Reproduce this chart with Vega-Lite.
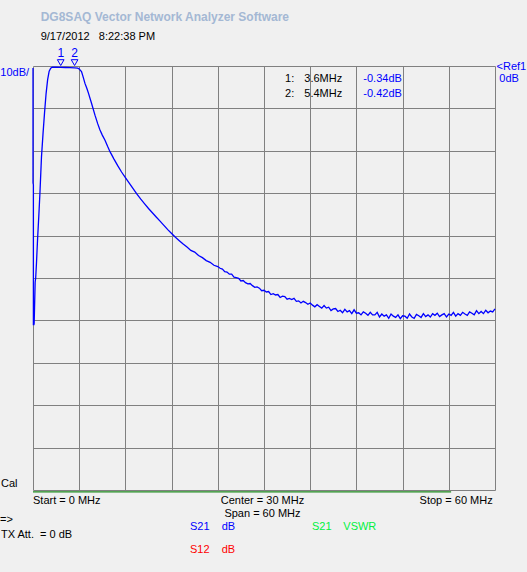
{
  "$schema": "https://vega.github.io/schema/vega-lite/v6.json",
  "autosize": "none",
  "width": 462,
  "height": 424,
  "padding": {"left": 33, "top": 66, "right": 32, "bottom": 82},
  "background": "#f0f0f0",
  "config": {
    "view": {"stroke": null},
    "text": {"font": "Liberation Sans", "fontSize": 11, "baseline": "alphabetic", "align": "left", "color": "#000000"},
    "axis": {"grid": true, "gridColor": "#808080", "gridOpacity": 1, "gridWidth": 1, "labels": false, "ticks": false, "domain": false, "title": null}
  },
  "data": {"values": [{}]},
  "layer": [
    {
      "data": {"values": [
        {"f": 0, "db": -0.5}, {"f": 0, "db": -27.6}, {"f": 0.05, "db": -28}, {"f": 0.05, "db": -61}, {"f": 0.12, "db": -61},
        {"f": 0.15, "db": -60.7}, {"f": 0.2, "db": -57}, {"f": 0.28, "db": -51}, {"f": 0.35, "db": -50}, {"f": 0.45, "db": -46.5},
        {"f": 0.6, "db": -40.6}, {"f": 0.75, "db": -35.5}, {"f": 0.9, "db": -30}, {"f": 1.1, "db": -21.5}, {"f": 1.3, "db": -16},
        {"f": 1.5, "db": -11}, {"f": 1.7, "db": -6.5}, {"f": 1.9, "db": -3.2}, {"f": 2.1, "db": -1.2}, {"f": 2.3, "db": -0.5},
        {"f": 2.5, "db": -0.3}, {"f": 3.0, "db": -0.3}, {"f": 3.6, "db": -0.34}, {"f": 4.2, "db": -0.35}, {"f": 4.8, "db": -0.38},
        {"f": 5.4, "db": -0.42}, {"f": 5.8, "db": -0.5}, {"f": 6.0, "db": -0.7}, {"f": 6.3, "db": -1.3}, {"f": 6.5, "db": -2.5},
        {"f": 6.75, "db": -4.1}, {"f": 7.0, "db": -5.3}, {"f": 7.2, "db": -6.4}, {"f": 7.6, "db": -8.8}, {"f": 8.05, "db": -11.6},
        {"f": 8.4, "db": -13.6}, {"f": 8.7, "db": -15.1}, {"f": 9.0, "db": -16.3}, {"f": 9.35, "db": -17.5}, {"f": 9.7, "db": -19},
        {"f": 10, "db": -20.2}, {"f": 10.5, "db": -21.9}, {"f": 11, "db": -23.5}, {"f": 11.5, "db": -25}, {"f": 12, "db": -26.3},
        {"f": 12.5, "db": -27.6}, {"f": 13, "db": -28.9}, {"f": 13.5, "db": -30.2}, {"f": 14, "db": -31.4}, {"f": 14.5, "db": -32.5},
        {"f": 15, "db": -33.6}, {"f": 15.5, "db": -34.6}, {"f": 16, "db": -35.6}, {"f": 16.5, "db": -36.6}, {"f": 17, "db": -37.6},
        {"f": 17.5, "db": -38.6}, {"f": 18, "db": -39.5}, {"f": 18.5, "db": -40.4}, {"f": 19, "db": -41.2}, {"f": 19.5, "db": -42},
        {"f": 20, "db": -42.7}, {"f": 20.5, "db": -43.5}, {"f": 21, "db": -43.9}, {"f": 21.5, "db": -44.7}, {"f": 22, "db": -45.2},
        {"f": 22.5, "db": -45.9}, {"f": 23, "db": -46.3}, {"f": 23.5, "db": -47.0}, {"f": 24, "db": -47.3},
        {"f": 24.3, "db": -47.7}, {"f": 24.6, "db": -47.9}, {"f": 24.9, "db": -48.5}, {"f": 25.2, "db": -48.6}, {"f": 25.5, "db": -49.1},
        {"f": 25.8, "db": -49.1}, {"f": 26.1, "db": -49.8}, {"f": 26.4, "db": -49.9}, {"f": 26.7, "db": -50.1}, {"f": 27.0, "db": -50.7},
        {"f": 27.3, "db": -50.6}, {"f": 27.6, "db": -51.1}, {"f": 27.9, "db": -51.4}, {"f": 28.2, "db": -51.3}, {"f": 28.5, "db": -51.8},
        {"f": 28.8, "db": -52.2}, {"f": 29.1, "db": -52.1}, {"f": 29.4, "db": -52.4}, {"f": 29.7, "db": -53.0}, {"f": 30.0, "db": -52.9},
        {"f": 30.3, "db": -53.3}, {"f": 30.6, "db": -53.2}, {"f": 30.9, "db": -53.9}, {"f": 31.2, "db": -53.7}, {"f": 31.5, "db": -54.0},
        {"f": 31.8, "db": -53.9}, {"f": 32.1, "db": -54.6}, {"f": 32.4, "db": -54.3}, {"f": 32.7, "db": -54.4}, {"f": 33.0, "db": -55.0},
        {"f": 33.3, "db": -54.8}, {"f": 33.6, "db": -55.1}, {"f": 33.9, "db": -54.8}, {"f": 34.2, "db": -55.5}, {"f": 34.5, "db": -55.4},
        {"f": 34.8, "db": -55.9}, {"f": 35.1, "db": -55.5}, {"f": 35.4, "db": -55.8}, {"f": 35.7, "db": -56.2}, {"f": 36.0, "db": -55.9},
        {"f": 36.3, "db": -56.4}, {"f": 36.6, "db": -56.8}, {"f": 36.9, "db": -56.3}, {"f": 37.2, "db": -56.7}, {"f": 37.5, "db": -57.1},
        {"f": 37.8, "db": -56.5}, {"f": 38.1, "db": -57.1}, {"f": 38.4, "db": -56.9}, {"f": 38.7, "db": -57.7}, {"f": 39.0, "db": -57.3},
        {"f": 39.3, "db": -57.2}, {"f": 39.6, "db": -57.9}, {"f": 39.9, "db": -57.6}, {"f": 40.2, "db": -58.2}, {"f": 40.5, "db": -57.4},
        {"f": 40.8, "db": -58.0}, {"f": 41.1, "db": -57.7}, {"f": 41.4, "db": -58.4}, {"f": 41.7, "db": -57.5}, {"f": 42.0, "db": -58.3},
        {"f": 42.3, "db": -58.2}, {"f": 42.6, "db": -58.7}, {"f": 42.9, "db": -58.0}, {"f": 43.2, "db": -58.3}, {"f": 43.5, "db": -58.8},
        {"f": 43.8, "db": -58.1}, {"f": 44.1, "db": -58.7}, {"f": 44.4, "db": -58.7}, {"f": 44.7, "db": -58.1}, {"f": 45.0, "db": -59.2},
        {"f": 45.3, "db": -58.5}, {"f": 45.6, "db": -59.0}, {"f": 45.9, "db": -58.7}, {"f": 46.2, "db": -59.5}, {"f": 46.5, "db": -58.5},
        {"f": 46.8, "db": -59.0}, {"f": 47.1, "db": -59.3}, {"f": 47.4, "db": -58.7}, {"f": 47.7, "db": -59.6}, {"f": 48.0, "db": -58.9},
        {"f": 48.3, "db": -59.0}, {"f": 48.6, "db": -59.5}, {"f": 48.9, "db": -58.5}, {"f": 49.2, "db": -59.2}, {"f": 49.5, "db": -59.5},
        {"f": 49.8, "db": -58.6}, {"f": 50.1, "db": -58.9}, {"f": 50.4, "db": -59.3}, {"f": 50.7, "db": -58.4}, {"f": 51.0, "db": -59.1},
        {"f": 51.3, "db": -58.7}, {"f": 51.6, "db": -59.2}, {"f": 51.9, "db": -58.4}, {"f": 52.2, "db": -58.8}, {"f": 52.5, "db": -58.3},
        {"f": 52.8, "db": -59.1}, {"f": 53.1, "db": -58.7}, {"f": 53.4, "db": -58.4}, {"f": 53.7, "db": -59.2}, {"f": 54.0, "db": -58.5},
        {"f": 54.3, "db": -58.8}, {"f": 54.6, "db": -58.1}, {"f": 54.9, "db": -59.0}, {"f": 55.2, "db": -58.4}, {"f": 55.5, "db": -58.8},
        {"f": 55.8, "db": -58.1}, {"f": 56.1, "db": -58.5}, {"f": 56.4, "db": -58.8}, {"f": 56.7, "db": -58.0}, {"f": 57.0, "db": -58.3},
        {"f": 57.3, "db": -58.7}, {"f": 57.6, "db": -57.7}, {"f": 57.9, "db": -58.4}, {"f": 58.2, "db": -57.9}, {"f": 58.5, "db": -58.4},
        {"f": 58.8, "db": -57.6}, {"f": 59.1, "db": -58.2}, {"f": 59.4, "db": -57.8}, {"f": 59.7, "db": -58.0}, {"f": 60.0, "db": -57.3}
      ]},
      "mark": {"type": "line", "color": "#0000ff", "strokeWidth": 1.3, "interpolate": "linear"},
      "encoding": {
        "x": {"field": "f", "type": "quantitative", "scale": {"domain": [0, 60], "nice": false, "zero": false},
              "axis": {"values": [0, 6, 12, 18, 24, 30, 36, 42, 48, 54, 60]}},
        "y": {"field": "db", "type": "quantitative", "scale": {"domain": [-100, 0], "nice": false, "zero": false},
              "axis": {"values": [-100, -90, -80, -70, -60, -50, -40, -30, -20, -10, 0]}},
        "order": {"field": "f"}
      }
    },
    {
      "data": {"values": [{"marker": "1", "f": 3.6, "db": -0.34}, {"marker": "2", "f": 5.4, "db": -0.42}]},
      "layer": [
        {"mark": {"type": "point", "shape": "triangle-down", "filled": false, "color": "#0000ff", "strokeWidth": 1, "size": 45, "opacity": 1},
         "encoding": {"x": {"field": "f", "type": "quantitative"}, "y": {"datum": 0.8}}},
        {"mark": {"type": "text", "align": "center", "color": "#0000ff", "fontSize": 12},
         "encoding": {"x": {"field": "f", "type": "quantitative"}, "y": {"datum": 2.05}, "text": {"field": "marker"}}}
      ]
    },
    {"mark": {"type": "text", "text": "DG8SAQ Vector Network Analyzer Software", "fontWeight": "bold", "fontSize": 12, "color": "#a4b8d4"},
     "encoding": {"x": {"datum": 1.0}, "y": {"datum": 10.68}}},
    {"mark": {"type": "text", "text": "9/17/2012\u00a0\u00a0\u00a08:22:38 PM"},
     "encoding": {"x": {"datum": 1.0}, "y": {"datum": 6.13}}},
    {"mark": {"type": "text", "text": "10dB/", "align": "left", "color": "#0000ff"},
     "encoding": {"x": {"datum": -4.25}, "y": {"datum": -2.36}}},
    {"mark": {"type": "text", "text": "1:"}, "encoding": {"x": {"datum": 32.73}, "y": {"datum": -3.84}}},
    {"mark": {"type": "text", "text": "3.6MHz"}, "encoding": {"x": {"datum": 35.23}, "y": {"datum": -3.84}}},
    {"mark": {"type": "text", "text": "-0.34dB", "color": "#0000ff"}, "encoding": {"x": {"datum": 42.9}, "y": {"datum": -3.84}}},
    {"mark": {"type": "text", "text": "2:"}, "encoding": {"x": {"datum": 32.73}, "y": {"datum": -7.38}}},
    {"mark": {"type": "text", "text": "5.4MHz"}, "encoding": {"x": {"datum": 35.23}, "y": {"datum": -7.38}}},
    {"mark": {"type": "text", "text": "-0.42dB", "color": "#0000ff"}, "encoding": {"x": {"datum": 42.9}, "y": {"datum": -7.38}}},
    {"mark": {"type": "text", "text": "<Ref1", "color": "#0000ff"}, "encoding": {"x": {"datum": 60.2}, "y": {"datum": -0.94}}},
    {"mark": {"type": "text", "text": "0dB", "color": "#0000ff"}, "encoding": {"x": {"datum": 60.56}, "y": {"datum": -3.84}}},
    {"mark": {"type": "text", "text": "Cal"}, "encoding": {"x": {"datum": -4.16}, "y": {"datum": -99.2}}},
    {"mark": {"type": "rule", "color": "#1f8a1f", "strokeWidth": 1.3},
     "encoding": {"x": {"datum": 0}, "x2": {"datum": 54.3}, "y": {"datum": -100.45}}},
    {"mark": {"type": "text", "text": "Start = 0 MHz"}, "encoding": {"x": {"datum": 0}, "y": {"datum": -103.3}}},
    {"mark": {"type": "text", "text": "Center = 30 MHz", "align": "center"}, "encoding": {"x": {"datum": 29.8}, "y": {"datum": -103.3}}},
    {"mark": {"type": "text", "text": "Stop = 60 MHz", "align": "right"}, "encoding": {"x": {"datum": 59.7}, "y": {"datum": -103.3}}},
    {"mark": {"type": "text", "text": "Span = 60 MHz", "align": "center"}, "encoding": {"x": {"datum": 29.8}, "y": {"datum": -106.3}}},
    {"mark": {"type": "text", "text": "=>"}, "encoding": {"x": {"datum": -4.29}, "y": {"datum": -107.8}}},
    {"mark": {"type": "text", "text": "TX Att.\u00a0 = 0 dB"}, "encoding": {"x": {"datum": -4.16}, "y": {"datum": -111.4}}},
    {"mark": {"type": "text", "text": "S21", "color": "#0000ff"}, "encoding": {"x": {"datum": 20.39}, "y": {"datum": -109.4}}},
    {"mark": {"type": "text", "text": "dB", "color": "#0000ff"}, "encoding": {"x": {"datum": 24.5}, "y": {"datum": -109.4}}},
    {"mark": {"type": "text", "text": "S21", "color": "#00f040"}, "encoding": {"x": {"datum": 36.23}, "y": {"datum": -109.4}}},
    {"mark": {"type": "text", "text": "VSWR", "color": "#00f040"}, "encoding": {"x": {"datum": 40.3}, "y": {"datum": -109.4}}},
    {"mark": {"type": "text", "text": "S12", "color": "#ff0000"}, "encoding": {"x": {"datum": 20.39}, "y": {"datum": -114.8}}},
    {"mark": {"type": "text", "text": "dB", "color": "#ff0000"}, "encoding": {"x": {"datum": 24.5}, "y": {"datum": -114.8}}}
  ]
}
